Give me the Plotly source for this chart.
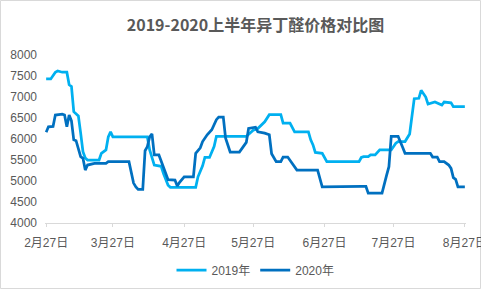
import plotly.graph_objects as go

# 2019 series (month-day, price)
dates_2019 = ["02-27","02-29","03-02","03-03","03-05","03-07","03-08","03-09","03-10","03-12",
              "03-13","03-14","03-15","03-16","03-21","03-22","03-24","03-25","03-26","03-27",
              "04-11","04-12","04-14","04-17","04-18","04-20","04-21","05-02","05-03","05-05",
              "05-06","05-08","05-10","05-11","05-24","05-26","05-27","05-29","06-01","06-03",
              "06-08","06-09","06-12","06-14","06-20","06-21","06-22","06-23","06-26","06-28",
              "07-12","07-13","07-14","07-16","07-17","07-19","07-21","07-26","07-28","07-29",
              "08-01","08-03","08-04","08-05","08-07","08-08","08-10","08-11","08-14","08-17",
              "08-18","08-21","08-22","08-27"]
price_2019 = [7430,7430,7590,7620,7590,7590,7290,7250,6650,6550,
              6140,5700,5550,5500,5500,5660,5740,6050,6170,6050,
              6050,5740,5380,5350,5180,4900,4850,4850,5100,5360,
              5560,5560,5820,6060,6060,6170,6210,6250,6410,6580,
              6580,6380,6380,6170,6170,5980,5860,5680,5660,5460,
              5460,5560,5580,5580,5620,5620,5740,5740,5900,5940,
              5940,6120,6500,6960,6970,7160,7000,6830,6880,6810,
              6880,6860,6770,6770]

# 2020 series
dates_2020 = ["02-27","02-28","03-01","03-02","03-05","03-06","03-07","03-08","03-09","03-10",
              "03-11","03-13","03-14","03-15","03-16","03-19","03-24","03-25","04-03","04-04",
              "04-05","04-06","04-07","04-09","04-10","04-11","04-12","04-13","04-14","04-16",
              "04-17","04-18","04-19","04-20","04-23","04-24","04-25","04-27","05-01","05-02",
              "05-04","05-05","05-07","05-09","05-11","05-12","05-14","05-15","05-17","05-21",
              "05-24","05-25","05-28","05-29","06-01","06-03","06-04","06-06","06-08","06-09",
              "06-11","06-14","06-15","06-24","06-25","06-26","07-13","07-15","07-16","07-22",
              "07-24","07-25","07-26","07-29","07-31","08-01","08-12","08-13","08-15","08-16",
              "08-18","08-20","08-21","08-22","08-23","08-24","08-27"]
price_2020 = [6160,6290,6300,6570,6590,6570,6290,6570,6430,5980,
              5960,5580,5540,5260,5380,5420,5420,5460,5460,5200,
              4950,4860,4800,4800,5720,5820,6050,6120,5620,5620,
              5470,5300,5170,5030,5020,4880,4970,5100,5100,5660,
              5790,5940,6100,6220,6460,6520,6520,6020,5690,5690,
              5920,6250,6280,6170,6140,6100,5650,5460,5460,5570,
              5570,5350,5260,5260,5080,4860,4870,4870,4710,4710,
              5140,5340,6060,6060,5800,5660,5660,5570,5570,5460,
              5460,5380,5300,5080,5040,4860,4860]

tick_dates = ["02-27","03-27","04-27","05-27","06-27","07-27","08-27"]
tick_labels = ["2月27日","3月27日","4月27日","5月27日","6月27日","7月27日","8月27日"]
y_ticks = [4000,4500,5000,5500,6000,6500,7000,7500,8000]

title_text = "2019-2020上半年异丁醛价格对比图"
series_names = ["2019年", "2020年"]

def to_date(md):
    return "2020-" + md

FONT = "Liberation Sans, Arial, Noto Sans CJK SC, sans-serif"
GREY = "#595959"

fig = go.Figure()
fig.add_trace(go.Scatter(x=[to_date(d) for d in dates_2019], y=price_2019, mode="lines",
                         name=series_names[0], line=dict(color="#00B0F0", width=2.75)))
fig.add_trace(go.Scatter(x=[to_date(d) for d in dates_2020], y=price_2020, mode="lines",
                         name=series_names[1], line=dict(color="#0070C0", width=2.75)))

L, R, T, B = 45, 15, 55, 66
W, H = 481, 289
pw, ph = W - L - R, H - T - B

fig.update_layout(
    width=W, height=H,
    margin=dict(l=L, r=R, t=T, b=B, autoexpand=False),
    paper_bgcolor="white", plot_bgcolor="white",
    font=dict(family=FONT, size=12, color=GREY),
    title=dict(text="<b>" + title_text + "</b>", x=0.5, xanchor="center", y=1 - 25 / H,
               yanchor="middle", xref="paper",
               font=dict(family="Noto Sans CJK SC, sans-serif", size=16, color=GREY)),
    showlegend=True,
    legend=dict(orientation="h", x=0.5, xanchor="center", yref="container",
                y=(H - 270) / H, yanchor="middle",
                font=dict(family=FONT, size=12, color=GREY), bgcolor="rgba(0,0,0,0)"),
    xaxis=dict(type="date", range=["2020-02-26 12:00", "2020-08-27 12:00"],
               tickvals=[to_date(d) for d in tick_dates], ticktext=tick_labels,
               showgrid=False, zeroline=False, showline=True, linecolor="#d9d9d9", linewidth=1,
               ticks="outside", ticklen=3, tickcolor="#d9d9d9", ticklabelstandoff=6,
               ticklabeloverflow="allow", automargin=False,
               tickfont=dict(family=FONT, size=12, color=GREY)),
    yaxis=dict(range=[4000, 8000], tickvals=y_ticks, showgrid=False, zeroline=False,
               showline=False, ticks="", ticklabelstandoff=7, automargin=False,
               tickfont=dict(family=FONT, size=12, color=GREY)),
)

fig.add_shape(type="rect", xref="paper", yref="paper",
              x0=(-L + 0.5) / pw, x1=1 + (R - 0.5) / pw,
              y0=(-B + 0.5) / ph, y1=1 + (T - 0.5) / ph,
              line=dict(color="#d9d9d9", width=1), fillcolor="rgba(0,0,0,0)", layer="below")

fig.write_html("out.html")
